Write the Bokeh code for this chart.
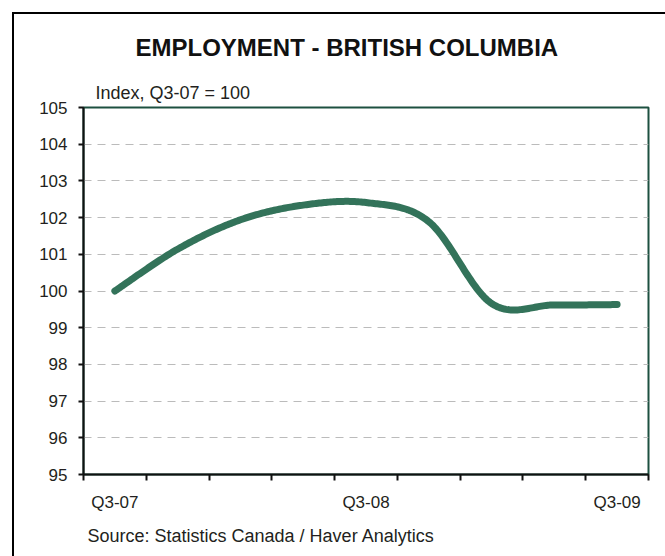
import numpy as np
from bokeh.plotting import figure
from bokeh.models import FixedTicker, Title, Range1d
from bokeh.layouts import column
from bokeh.embed import file_html
from bokeh.resources import INLINE

# ---- data ----
quarters = ["Q3-07", "Q4-07", "Q1-08", "Q2-08", "Q3-08", "Q4-08", "Q1-09", "Q2-09", "Q3-09"]
values = [100.0, 101.14, 101.94, 102.34, 102.41, 101.89, 99.66, 99.62, 99.63]
y_ticks = [95, 96, 97, 98, 99, 100, 101, 102, 103, 104, 105]
x_label_positions = [0, 4, 8]
x_label_text = ["Q3-07", "Q3-08", "Q3-09"]

FONT = "Liberation Sans"
TXT = "#231F20"


def smooth(xs, ys, n=40):
    """Catmull-Rom style Bezier smoothing through the data points."""
    pts = np.column_stack([xs, ys]).astype(float)
    P = np.vstack([pts[0], pts, pts[-1]])
    out = []
    t = np.linspace(0, 1, n)[:, None]
    for i in range(1, len(P) - 2):
        p0, p1, p2, p3 = P[i - 1], P[i], P[i + 1], P[i + 2]
        c1 = p1 + (p2 - p0) / 6.0
        c2 = p2 - (p3 - p1) / 6.0
        seg = (1 - t) ** 3 * p1 + 3 * (1 - t) ** 2 * t * c1 + 3 * (1 - t) * t ** 2 * c2 + t ** 3 * p2
        out.append(seg if i == 1 else seg[1:])
    return np.vstack(out)


xs = np.arange(len(quarters))
curve = smooth(xs, values)

p = figure(width=651, height=542,
           x_range=Range1d(-0.5, len(quarters) - 0.5),
           y_range=Range1d(min(y_ticks), max(y_ticks)),
           output_backend="svg", toolbar_location=None,
           min_border_left=69, min_border_right=17,
           min_border_top=93, min_border_bottom=82,
           background_fill_color="white", border_fill_color="white")

p.title.text = "EMPLOYMENT - BRITISH COLUMBIA"
p.title.text_font = FONT
p.title.text_font_size = "24px"
p.title.text_font_style = "bold"
p.title.text_color = "#111111"
p.title.align = "left"
p.title.offset = 52
p.title.standoff = 32

p.add_layout(Title(text="Index, Q3-07 = 100", align="left", offset=12,
                   text_font=FONT, text_font_size="18px", text_font_style="normal",
                   text_color=TXT, standoff=9), "above")

p.add_layout(Title(text="Source: Statistics Canada / Haver Analytics", align="left", offset=4,
                   text_font=FONT, text_font_size="18px", text_font_style="normal",
                   text_color=TXT, standoff=19), "below")

# outline (top/right in dark green)
p.outline_line_color = "#1D5040"
p.outline_line_width = 2

# y axis
p.yaxis.ticker = FixedTicker(ticks=y_ticks, minor_ticks=[])
p.yaxis.axis_line_color = "#111111"
p.yaxis.axis_line_width = 2
p.yaxis.major_tick_line_color = "#111111"
p.yaxis.major_tick_line_width = 2
p.yaxis.major_tick_in = 0
p.yaxis.major_tick_out = 5
p.yaxis.minor_tick_line_color = None
p.yaxis.major_label_text_font = FONT
p.yaxis.major_label_text_font_size = "17px"
p.yaxis.major_label_text_color = TXT
p.yaxis.major_label_standoff = 11

# x axis: labels at category centres, ticks at category boundaries
bounds = [i - 0.5 for i in range(len(quarters) + 1)]
p.xaxis.ticker = FixedTicker(ticks=x_label_positions, minor_ticks=bounds)
p.xaxis.major_label_overrides = {k: v for k, v in zip(x_label_positions, x_label_text)}
p.xaxis.axis_line_color = "#111111"
p.xaxis.axis_line_width = 2
p.xaxis.major_tick_line_color = None
p.xaxis.major_tick_in = 0
p.xaxis.major_tick_out = 0
p.xaxis.minor_tick_line_color = "#111111"
p.xaxis.minor_tick_line_width = 2
p.xaxis.minor_tick_in = 0
p.xaxis.minor_tick_out = 6
p.xaxis.major_label_text_font = FONT
p.xaxis.major_label_text_font_size = "17px"
p.xaxis.major_label_text_color = TXT
p.xaxis.major_label_standoff = 12

# grid
p.xgrid.grid_line_color = None
p.ygrid.ticker = FixedTicker(ticks=y_ticks[1:-1])
p.ygrid.grid_line_color = "#BBBBBB"
p.ygrid.grid_line_dash = "8 6"
p.ygrid.grid_line_width = 1

p.line(curve[:, 0], curve[:, 1], line_color="#33735A", line_width=7, line_cap="round", line_join="round")

layout = column(p, margin=(12, 0, 0, 12),
                styles={"border-left": "2px solid #000000", "border-top": "2px solid #000000"})

open("out.html", "w").write(file_html(layout, INLINE))
